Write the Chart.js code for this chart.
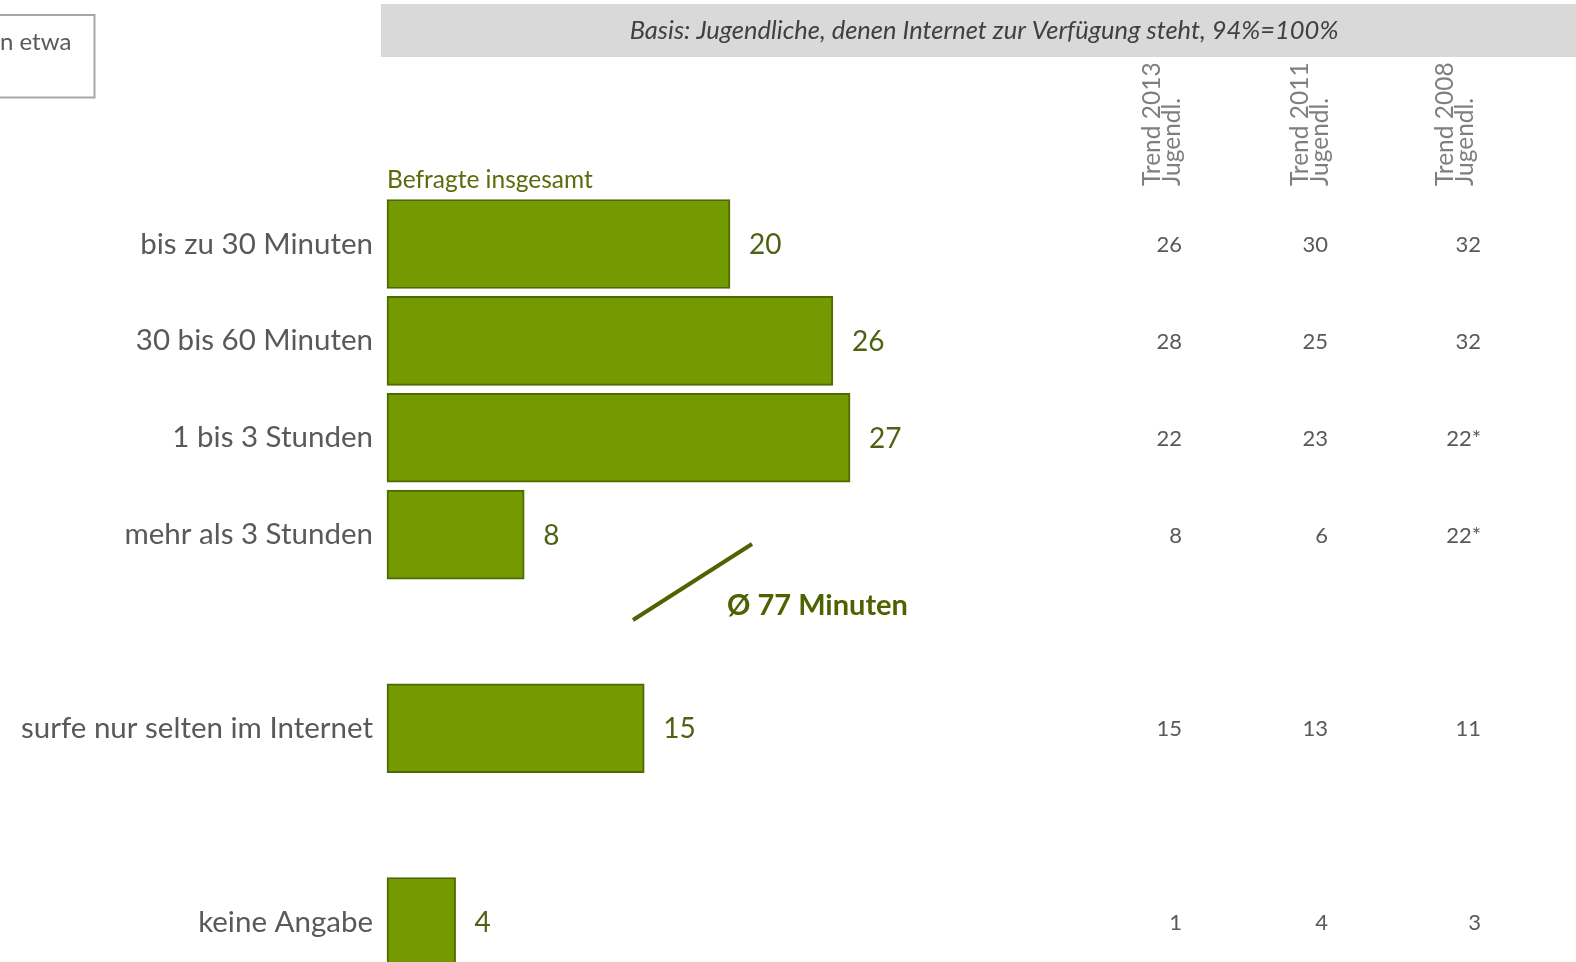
<!DOCTYPE html>
<html>
<head>
<meta charset="utf-8">
<script src="https://cdn.jsdelivr.net/npm/chart.js@4.4.1/dist/chart.umd.min.js"></script>
<style>
  html, body { margin: 0; padding: 0; background: #ffffff; }
  #wrap { position: relative; width: 1576px; height: 962px; }
</style>
</head>
<body>
<div id="wrap"><canvas id="chart" width="1576" height="962"></canvas></div>
<script>
// Daily internet time of young people (percent), empty slots keep the gaps between groups
const categories = [
  'bis zu 30 Minuten',
  '30 bis 60 Minuten',
  '1 bis 3 Stunden',
  'mehr als 3 Stunden',
  '',
  'surfe nur selten im Internet',
  '',
  'keine Angabe'
];
const shares = [20, 26, 27, 8, null, 15, null, 4];

// Comparison columns from earlier surveys
const trendHeaders = [['Trend 2013', 'Jugendl.'], ['Trend 2011', 'Jugendl.'], ['Trend 2008', 'Jugendl.']];
const trend2013 = ['26', '28', '22', '8', null, '15', null, '1'];
const trend2011 = ['30', '25', '23', '6', null, '13', null, '4'];
const trend2008 = ['32', '32', '22*', '22*', null, '11', null, '3'];

const seriesLabel = 'Befragte insgesamt';
const baseNote = 'Basis: Jugendliche, denen Internet zur Verfügung steht, 94%=100%';
const averageNote = 'Ø 77 Minuten';
const cornerText = 'n etwa';

const FONT = 'Lato, "Open Sans", sans-serif';
const GREEN = '#739a00';
const GREEN_EDGE = '#4f6a00';
const OLIVE_TEXT = '#4f6214';
const GREY_TEXT = '#595959';

const decorations = {
  id: 'decorations',
  beforeDraw(chart) {
    const ctx = chart.ctx;
    ctx.save();
    // header band with the survey base
    ctx.fillStyle = '#d9d9d9';
    ctx.fillRect(381, 4, 1576 - 381, 53);
    ctx.fillStyle = '#404040';
    ctx.font = 'italic 25.5px ' + FONT;
    ctx.textAlign = 'center';
    ctx.textBaseline = 'middle';
    ctx.fillText(baseNote, 984, 31);

    // framed note box at the top left
    ctx.strokeStyle = '#a6a6a6';
    ctx.lineWidth = 2;
    ctx.strokeRect(-10, 15, 104.5, 82.5);
    ctx.fillStyle = GREY_TEXT;
    ctx.font = '24px ' + FONT;
    ctx.textAlign = 'left';
    ctx.fillText(cornerText, 0, 42);

    // series caption above the bars
    ctx.fillStyle = '#5b6b0c';
    ctx.font = '24.5px ' + FONT;
    ctx.textAlign = 'left';
    ctx.textBaseline = 'alphabetic';
    ctx.fillText(seriesLabel, chart.chartArea.left, 188);
    ctx.restore();
  },
  afterDatasetsDraw(chart) {
    const ctx = chart.ctx;
    const yScale = chart.scales.y;
    const meta = chart.getDatasetMeta(0);
    ctx.save();

    // value labels next to the bars
    ctx.fillStyle = OLIVE_TEXT;
    ctx.font = '28px ' + FONT;
    ctx.textAlign = 'left';
    ctx.textBaseline = 'middle';
    meta.data.forEach((bar, i) => {
      const v = shares[i];
      if (v === null) return;
      ctx.fillText(String(v), bar.x + 19, bar.y + 1);
    });

    // trend columns
    const columns = [
      { header: trendHeaders[0], values: trend2013, lineX: 1152, right: 1182 },
      { header: trendHeaders[1], values: trend2011, lineX: 1300, right: 1328 },
      { header: trendHeaders[2], values: trend2008, lineX: 1445, right: 1481 }
    ];
    columns.forEach(col => {
      ctx.save();
      ctx.translate(col.lineX, 186);
      ctx.rotate(-Math.PI / 2);
      ctx.fillStyle = '#7f7f7f';
      ctx.font = '24.5px ' + FONT;
      ctx.textAlign = 'left';
      ctx.textBaseline = 'middle';
      ctx.fillText(col.header[0], 0, 0);
      ctx.fillText(col.header[1], 0, 20);
      ctx.restore();

      ctx.fillStyle = GREY_TEXT;
      ctx.font = '22px ' + FONT;
      ctx.textAlign = 'right';
      ctx.textBaseline = 'middle';
      col.values.forEach((t, i) => {
        if (t === null) return;
        ctx.fillText(t, col.right, yScale.getPixelForValue(i) + 1);
      });
    });

    // average marker
    ctx.strokeStyle = '#556000';
    ctx.lineWidth = 4;
    ctx.beginPath();
    ctx.moveTo(633, 620);
    ctx.lineTo(752, 544);
    ctx.stroke();
    ctx.fillStyle = '#4f6200';
    ctx.font = 'bold 29px ' + FONT;
    ctx.textAlign = 'left';
    ctx.textBaseline = 'middle';
    ctx.fillText(averageNote, 727, 606);

    ctx.restore();
  }
};

new Chart(document.getElementById('chart'), {
  type: 'bar',
  data: {
    labels: categories,
    datasets: [{
      label: seriesLabel,
      data: shares,
      backgroundColor: GREEN,
      borderColor: GREEN_EDGE,
      borderWidth: 2,
      borderSkipped: false,
      barThickness: 89,
      clip: false
    }]
  },
  options: {
    indexAxis: 'y',
    responsive: false,
    animation: false,
    devicePixelRatio: 1,
    layout: { padding: { top: 244, bottom: 40, left: 0, right: 331.5 } },
    scales: {
      x: { type: 'linear', min: 0, max: 50, display: false },
      y: {
        type: 'category',
        offset: false,
        grid: { display: false, drawTicks: false },
        border: { display: false },
        ticks: {
          autoSkip: false,
          padding: 14,
          color: GREY_TEXT,
          font: { family: FONT, size: 29.5 }
        },
        afterFit(scale) { scale.width = 387; }
      }
    },
    plugins: {
      legend: { display: false },
      tooltip: { enabled: false }
    }
  },
  plugins: [decorations]
});
</script>
</body>
</html>
